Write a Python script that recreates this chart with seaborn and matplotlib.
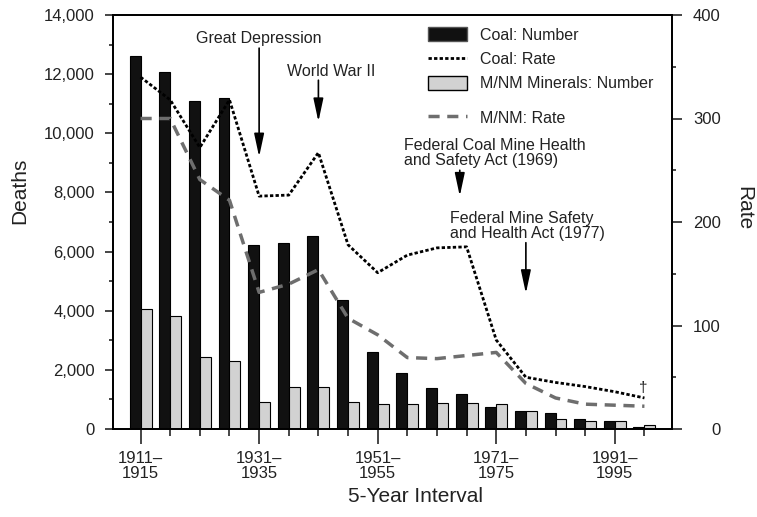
import numpy as np
import pandas as pd
import matplotlib
matplotlib.use("Agg")
import matplotlib.pyplot as plt
from matplotlib.patches import Patch
from matplotlib.lines import Line2D
import seaborn as sns

# data
periods = ['1911–1915', '1916–1920', '1921–1925', '1926–1930', '1931–1935',
           '1936–1940', '1941–1945', '1946–1950', '1951–1955', '1956–1960',
           '1961–1965', '1966–1970', '1971–1975', '1976–1980', '1981–1985',
           '1986–1990', '1991–1995', '1996–2000']
coal_deaths = [12600, 12070, 11100, 11200, 6220, 6300, 6530, 4360, 2610, 1880,
               1400, 1200, 750, 620, 530, 340, 260, 80]
mnm_deaths = [4050, 3820, 2420, 2290, 920, 1430, 1430, 920, 845, 845,
              890, 890, 845, 620, 340, 260, 260, 135]
coal_rate = [340, 318, 272, 318, 225, 226, 267, 178, 151, 168,
             175, 176, 86, 50, 45, 41, 36, 30]
mnm_rate = [300, 300, 241, 221, 132, 140, 154, 107, 91, 69,
            68, 71, 74, 44, 30, 24, 23, 22]
labeled_every = 4

sns.set_style("ticks")
plt.rcParams['font.family'] = ['Liberation Sans', 'DejaVu Sans']
txt = '#222222'

fig = plt.figure(figsize=(7.57, 5.17), dpi=100)
ax = fig.add_axes([113/757, 1 - 429/517, 559/757, 414/517])

df = pd.DataFrame({
    'period': periods * 2,
    'type': ['Coal: Number'] * len(periods) + ['M/NM Minerals: Number'] * len(periods),
    'deaths': coal_deaths + mnm_deaths,
})
sns.barplot(data=df, x='period', y='deaths', hue='type',
            hue_order=['Coal: Number', 'M/NM Minerals: Number'],
            palette=['#111111', '#d2d2d2'], saturation=1,
            edgecolor='black', linewidth=0.8, width=0.74, legend=False, ax=ax)

ax2 = ax.twinx()
pos = np.arange(len(periods))
sns.lineplot(x=pos, y=coal_rate, ax=ax2, color='black', lw=2.0,
             linestyle=(0, (1.2, 0.8)))
sns.lineplot(x=pos, y=mnm_rate, ax=ax2, color='#6e6e6e', lw=2.5,
             linestyle=(0, (3.2, 2.2)))

# axes limits / ticks
ax.set_xlim(-0.93, len(periods) - 1 + 0.93)
ax.set_ylim(0, 14000)
ax2.set_ylim(0, 400)

ax.set_yticks(np.arange(0, 14001, 2000))
ax.set_yticklabels([f'{v:,}' for v in range(0, 14001, 2000)], fontsize=12, color=txt)
ax.set_yticks(np.arange(1000, 14000, 2000), minor=True)
ax.tick_params(axis='y', which='major', length=6, width=1.2, pad=7)
ax.tick_params(axis='y', which='minor', length=3, width=1.2)

major_x = pos[::labeled_every]
ax.set_xticks(major_x)
ax.set_xticklabels([periods[i].replace('–', '–\n') for i in major_x],
                   fontsize=12, linespacing=1.0, color=txt)
ax.set_xticks([p for p in pos if p not in major_x], minor=True)
ax.tick_params(axis='x', which='major', length=11, width=1.2, pad=5)
ax.tick_params(axis='x', which='minor', length=5, width=1.2)

ax2.set_yticks(np.arange(0, 401, 100))
ax2.set_yticklabels([str(v) for v in range(0, 401, 100)], fontsize=12, color=txt)
ax2.set_yticks(np.arange(50, 400, 100), minor=True)
ax2.tick_params(axis='y', which='major', length=7, width=1.2, pad=28)
ax2.tick_params(axis='y', which='minor', length=3, width=1.2)
for lbl in ax2.get_yticklabels():
    lbl.set_horizontalalignment('right')

for a in (ax, ax2):
    for s in a.spines.values():
        s.set_linewidth(1.3)
        s.set_color('black')
    a.spines['top'].set_visible(True)

ax.set_xlabel('5-Year Interval', fontsize=15, va='center', color=txt)
ax.xaxis.set_label_coords(0.541, -0.164)
ax.set_ylabel('Deaths', fontsize=15, va='center', color=txt)
ax.yaxis.set_label_coords(-0.166, 0.575)
ax2.set_ylabel('Rate', fontsize=15, rotation=270, va='center', color=txt)
ax2.yaxis.set_label_coords(1.129, 0.534)

# annotations (rate axis coordinates)
arrow = dict(arrowstyle='-|>,head_length=1.4,head_width=0.3', lw=1.2,
             color='black', shrinkA=0, shrinkB=0, mutation_scale=10)
ax2.text(4, 377, 'Great Depression', fontsize=11.5, ha='center', va='center', color=txt)
ax2.annotate('', xy=(4, 263), xytext=(4, 368), arrowprops=arrow)
ax2.text(6.43, 345, 'World War II', fontsize=11.5, ha='center', va='center', color=txt)
ax2.annotate('', xy=(6, 297), xytext=(6, 337), arrowprops=arrow)
ax2.text(8.88, 267, 'Federal Coal Mine Health\nand Safety Act (1969)',
         fontsize=11.5, ha='left', va='center', linespacing=1.0, color=txt)
ax2.annotate('', xy=(10.77, 225), xytext=(10.77, 250), arrowprops=arrow)
ax2.text(10.43, 196, 'Federal Mine Safety\nand Health Act (1977)',
         fontsize=11.5, ha='left', va='center', linespacing=1.0, color=txt)
ax2.annotate('', xy=(13, 131), xytext=(13, 180), arrowprops=arrow)
ax2.text(16.95, 40, '†', fontsize=11, ha='center', va='center', color=txt)

# legend
h1 = [Patch(facecolor='#111111', edgecolor='#555555'),
      Line2D([], [], color='black', lw=2.0, linestyle=(0, (1.2, 0.8))),
      Patch(facecolor='#d2d2d2', edgecolor='black')]
l1 = ['Coal: Number', 'Coal: Rate', 'M/NM Minerals: Number']
leg1 = ax2.legend(h1, l1, loc='upper left', bbox_to_anchor=(428/757, 1 - 27/517),
                  bbox_transform=fig.transFigure, frameon=False, fontsize=11.5,
                  handlelength=2.45, handleheight=1.0, handletextpad=0.8,
                  labelspacing=0.55, borderpad=0, borderaxespad=0, labelcolor=txt)
ax2.add_artist(leg1)
h2 = [Line2D([], [], color='#6e6e6e', lw=2.5, linestyle=(0, (3.2, 2.2)))]
ax2.legend(h2, ['M/NM: Rate'], loc='upper left',
           bbox_to_anchor=(428/757, 1 - 110/517), bbox_transform=fig.transFigure,
           frameon=False, fontsize=11.5, handlelength=2.45, handleheight=1.0,
           handletextpad=0.8, borderpad=0, borderaxespad=0, labelcolor=txt)

plt.savefig('out.png', dpi=100)
